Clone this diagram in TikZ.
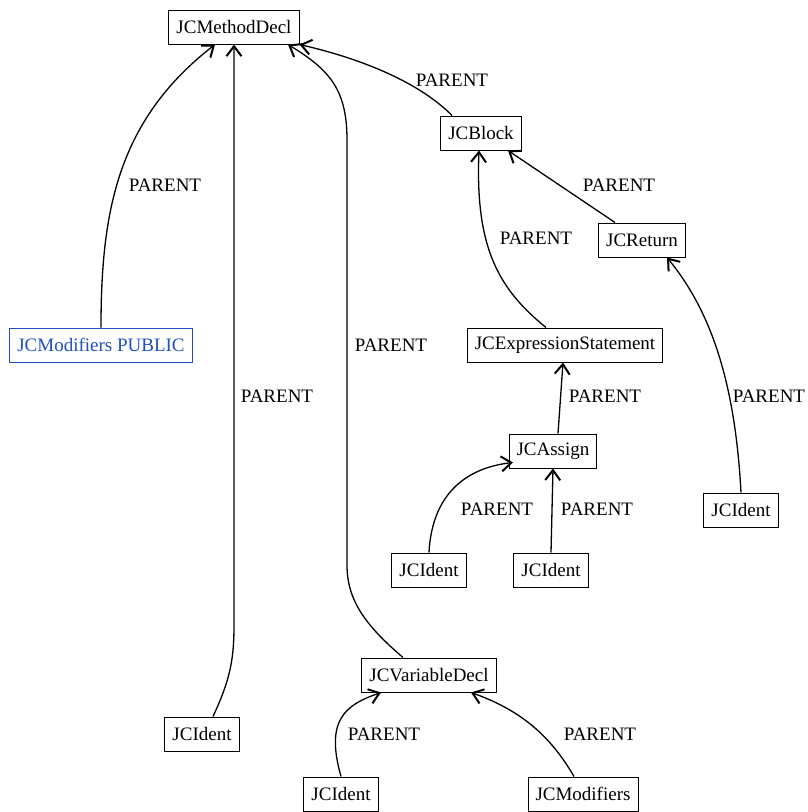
\documentclass[tikz,border=0pt]{standalone}
\usepackage{fontspec}
\setmainfont{Liberation Serif}
\usetikzlibrary{arrows.meta}
\definecolor{pubblue}{HTML}{1F4FC4}
\begin{document}
\begin{tikzpicture}[x=1pt,y=-1pt,
  box/.style={draw,line width=1pt,fill=white,minimum height=34pt,inner xsep=7.5pt,inner ysep=0pt,font=\fontsize{19}{22}\selectfont},
  lbl/.style={font=\fontsize{19}{22}\selectfont,inner sep=0pt},
  edge/.style={line width=1.3pt,-{Straight Barb[length=10pt,width=15pt,line width=2pt]}}]
\useasboundingbox (0,0) rectangle (807,812);
\node[box] (md) at (234,27) {JCMethodDecl};
\node[box] (blk) at (481,133) {JCBlock};
\node[box] (ret) at (642,240) {JCReturn};
\node[box,draw=pubblue,text=pubblue] (mpub) at (101,345) {JCModifiers PUBLIC};
\node[box] (es) at (565,345) {JCExpressionStatement};
\node[box] (asg) at (553,451) {JCAssign};
\node[box] (idr) at (741,510) {JCIdent};
\node[box] (ida) at (429,570) {JCIdent};
\node[box] (idb) at (551,570) {JCIdent};
\node[box] (vd) at (429,675) {JCVariableDecl};
\node[box] (idl) at (202,734) {JCIdent};
\node[box] (idv) at (341,794) {JCIdent};
\node[box] (mods) at (583,794) {JCModifiers};

\draw[edge] (mpub.north) .. controls (101,210) and (118,120) .. ([xshift=-19pt]md.south);
\draw[edge] ([xshift=11pt]idl.north) .. controls (230,680) and (234,660) .. (234,625) -- ([xshift=0pt]md.south);
\draw[edge] ([xshift=-26pt]vd.north) .. controls (365,625) and (347,600) .. (347,565) -- (347,140) .. controls (347,90) and (330,70) .. ([xshift=54pt]md.south);
\draw[edge] ([xshift=-29pt]blk.north) .. controls (425,88) and (375,62) .. (md.south east);
\draw[edge] ([xshift=-19pt]es.north) .. controls (500,290) and (475,250) .. ([xshift=-2pt]blk.south);
\draw[edge] ([xshift=-27pt]ret.north) -- ([xshift=27pt]blk.south);
\draw[edge] ([xshift=5pt]asg.north) -- ([xshift=-2pt]es.south);
\draw[edge] (idr.north) .. controls (735,380) and (710,310) .. ([xshift=25pt]ret.south);
\draw[edge] (ida.north) .. controls (432,495) and (465,468) .. ([xshift=-40pt,yshift=6pt]asg.south);
\draw[edge] (idb.north) -- (asg.south);
\draw[edge] (idv.north) .. controls (325,720) and (345,705) .. ([xshift=-48pt]vd.south);
\draw[edge] ([xshift=-9pt]mods.north) .. controls (550,735) and (520,710) .. ([xshift=42pt]vd.south);

\node[lbl] (l1) at (165,185) {PARENT};
\node[lbl] (l2) at (277,396) {PARENT};
\node[lbl] (l3) at (391,345) {PARENT};
\node[lbl] (l4) at (452,80) {PARENT};
\node[lbl] (l5) at (536,238) {PARENT};
\node[lbl] (l6) at (619,185) {PARENT};
\node[lbl] (l7) at (605,396) {PARENT};
\node[lbl] (l8) at (769,396) {PARENT};
\node[lbl] (l9) at (497,509) {PARENT};
\node[lbl] (l10) at (597,509) {PARENT};
\node[lbl] (l11) at (384,734) {PARENT};
\node[lbl] (l12) at (600,734) {PARENT};
\end{tikzpicture}
\end{document}
